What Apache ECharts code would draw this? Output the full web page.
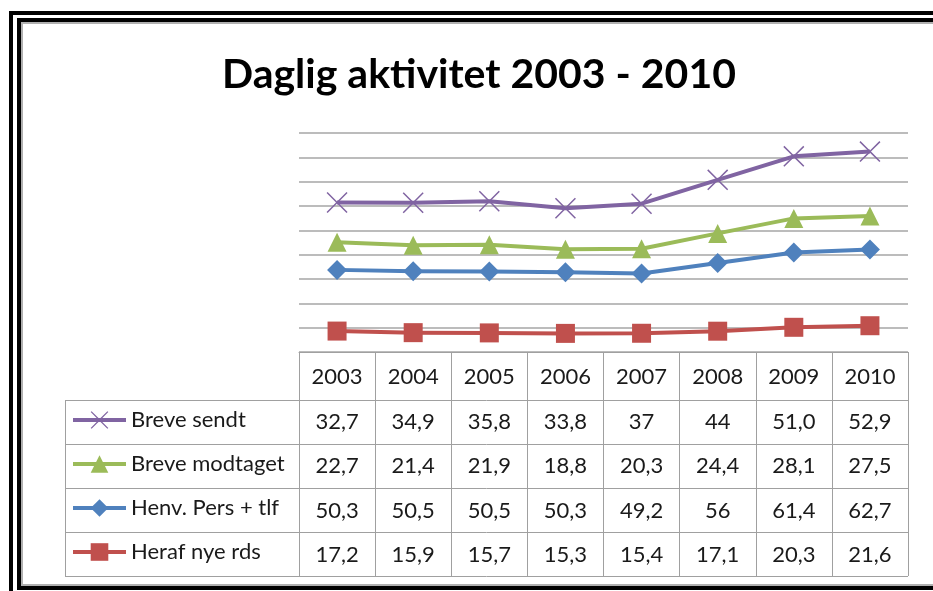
<!DOCTYPE html>
<html>
<head>
    <meta charset="utf-8">
    <title>Daglig aktivitet 2003 - 2010</title>
    <script src="https://cdn.jsdelivr.net/npm/echarts@6/dist/echarts.min.js"></script>
    <style>
        html, body { margin: 0; padding: 0; background: #fff; }
        #main { width: 933px; height: 591px; }
    </style>
</head>
<body>
<div id="main"></div>
<script>
    // data, as printed in the data table
    var years = ['2003', '2004', '2005', '2006', '2007', '2008', '2009', '2010'];
    var breveSendt = ['32,7', '34,9', '35,8', '33,8', '37', '44', '51,0', '52,9'];
    var breveModtaget = ['22,7', '21,4', '21,9', '18,8', '20,3', '24,4', '28,1', '27,5'];
    var henvPersTlf = ['50,3', '50,5', '50,5', '50,3', '49,2', '56', '61,4', '62,7'];
    var herafNyeRds = ['17,2', '15,9', '15,7', '15,3', '15,4', '17,1', '20,3', '21,6'];

    var seriesNames = ['Breve sendt', 'Breve modtaget', 'Henv. Pers + tlf', 'Heraf nye rds'];
    var tableRows = [breveSendt, breveModtaget, henvPersTlf, herafNyeRds];

    function num(s) { return parseFloat(s.replace(',', '.')); }

    // layout of plot + data table
    var plotLeft = 299, plotRight = 908, plotTop = 133, axisY = 352;
    var tableLeft = 65, headerH = 48, rowH = 44;
    var tableBottom = axisY + headerH + rowH * 4;
    var font = 'Lato';

    var chart = echarts.init(document.getElementById('main'));

    // thin X cross for "Breve sendt"
    var crossPath = 'path://M0,1L1,0L10,9L19,0L20,1L11,10L20,19L19,20L10,11L1,20L0,19L9,10Z';

    var graphics = [];
    // frame
    graphics.push({ type: 'rect', shape: { x: 11, y: 13, width: 960, height: 620 }, style: { fill: null, stroke: '#000', lineWidth: 4 }, silent: true });
    graphics.push({ type: 'rect', shape: { x: 19, y: 20, width: 950, height: 568 }, style: { fill: null, stroke: '#000', lineWidth: 4 }, silent: true });
    graphics.push({ type: 'rect', shape: { x: 22, y: 23, width: 950, height: 562 }, style: { fill: null, stroke: '#b0b0b0', lineWidth: 2 }, silent: true });
    // table rows
    for (var r = 0; r <= 4; r++) {
        var y = axisY + headerH + rowH * r + 0.5;
        graphics.push({ type: 'line', shape: { x1: tableLeft, y1: y, x2: plotRight, y2: y }, style: { stroke: '#a0a0a0', lineWidth: 1 }, silent: true });
    }
    graphics.push({ type: 'line', shape: { x1: tableLeft + 0.5, y1: axisY + headerH, x2: tableLeft + 0.5, y2: tableBottom + 0.5 }, style: { stroke: '#a0a0a0', lineWidth: 1 }, silent: true });

    function mkSeries(name, values, color, symbol, size) {
        return {
            name: name,
            type: 'line',
            stack: 'total',
            data: values.map(num),
            symbol: symbol,
            symbolSize: size,
            showAllSymbol: true,
            lineStyle: { color: color, width: 4, join: 'round' },
            itemStyle: { color: color },
            emphasis: { disabled: true },
            z: 3
        };
    }

    var option = {
        animation: false,
        backgroundColor: '#fff',
        title: {
            text: 'Daglig aktivitet 2003 - 2010',
            left: 222,
            top: 54,
            padding: 0,
            textStyle: { fontFamily: font, fontSize: 41, fontWeight: 'bold', color: '#000' }
        },
        legend: {
            data: seriesNames,
            orient: 'vertical',
            left: 71,
            top: 409,
            padding: 0,
            itemWidth: 53,
            itemHeight: 22,
            itemGap: rowH - 22,
            selectedMode: false,
            lineStyle: { width: 4 },
            textStyle: { fontFamily: font, fontSize: 22, color: '#1a1a1a', lineHeight: 22 }
        },
        grid: {
            left: plotLeft,
            right: 933 - plotRight,
            top: plotTop,
            bottom: 591 - axisY,
            containLabel: false
        },
        xAxis: {
            type: 'category',
            data: years,
            boundaryGap: true,
            axisLine: { lineStyle: { color: '#a0a0a0', width: 1 } },
            axisTick: { show: true, interval: 0, length: tableBottom - axisY, lineStyle: { color: '#a0a0a0', width: 1 } },
            axisLabel: {
                interval: 0,
                margin: 3,
                fontFamily: font,
                fontSize: 22,
                color: '#1a1a1a',
                lineHeight: 44.5,
                formatter: function (value, idx) {
                    var lines = [value];
                    for (var k = 0; k < tableRows.length; k++) lines.push(tableRows[k][idx]);
                    return lines.join('\n');
                }
            }
        },
        yAxis: {
            type: 'value',
            min: 0,
            max: 180,
            interval: 20,
            axisLine: { show: false },
            axisTick: { show: false },
            axisLabel: { show: false },
            splitLine: { lineStyle: { color: '#a6a6a6', width: 1.5 } }
        },
        graphic: graphics,
        // stacked from the bottom up, as the chart draws them
        series: [
            mkSeries('Heraf nye rds', herafNyeRds, '#C0504D', 'rect', 19),
            mkSeries('Henv. Pers + tlf', henvPersTlf, '#4F81BD', 'diamond', 20),
            mkSeries('Breve modtaget', breveModtaget, '#9BBB59', 'triangle', 19),
            mkSeries('Breve sendt', breveSendt, '#8064A2', crossPath, 21)
        ]
    };

    chart.setOption(option);
</script>
</body>
</html>
